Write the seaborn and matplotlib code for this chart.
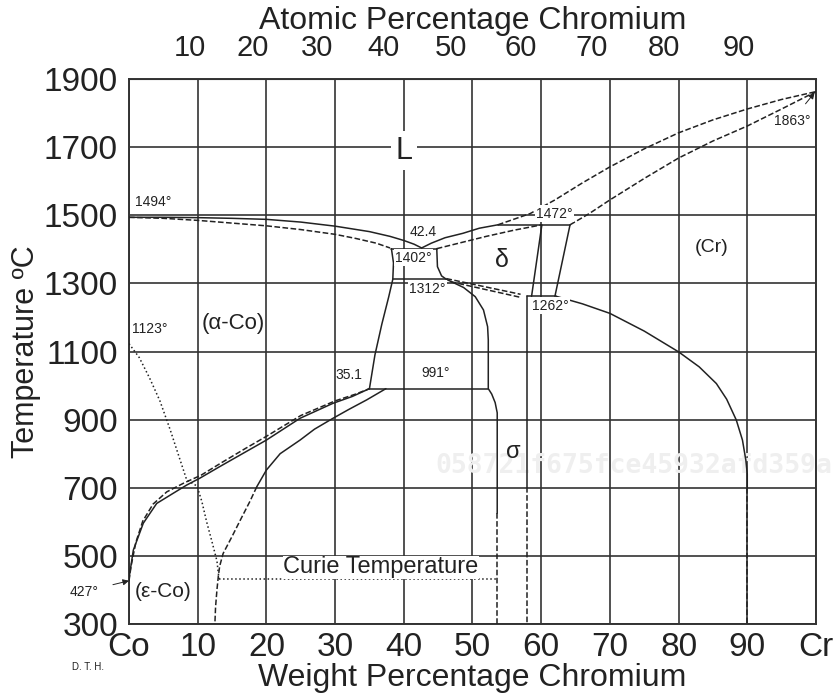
import numpy as np
import pandas as pd
import matplotlib
matplotlib.use("Agg")
import matplotlib.pyplot as plt
import seaborn as sns

# ---- data (weight % Cr, temperature in C) ----
liq_left_x = [0, 5, 10, 15, 20, 25, 30, 35, 38, 40, 41.5, 42.6]
liq_left_t = [1494, 1494, 1493, 1491, 1488, 1480, 1468, 1452, 1438, 1426, 1415, 1404]
sol_alpha_x = [0, 5, 10, 15, 20, 25, 30, 33, 36, 38]
sol_alpha_t = [1494, 1491, 1485, 1477, 1469, 1458, 1444, 1432, 1418, 1404]
liq_right_x = [42.6, 44, 46, 48.6, 51, 53.7]
liq_right_t = [1404, 1418, 1434, 1447, 1462, 1472]
peri_1472_x = [53.7, 64.2]
peri_1472_t = [1472, 1472]
sol_delta_x = [44.8, 48, 52, 56, 60.1]
sol_delta_t = [1402, 1418, 1438, 1456, 1472]
liq_cr_x = [53.7, 58.4, 62, 66, 70, 75, 80, 85, 90, 95, 100]
liq_cr_t = [1472, 1505, 1545, 1595, 1642, 1695, 1742, 1780, 1812, 1840, 1863]
sol_cr_x = [64.2, 67, 70, 75, 80, 85, 90, 95, 100]
sol_cr_t = [1472, 1505, 1545, 1608, 1668, 1718, 1762, 1812, 1863]

eut_1402_x = [38.2, 44.8]
eut_1402_t = [1402, 1402]
line_1312_x = [38.4, 46.2]
line_1312_t = [1312, 1312]
line_991_x = [35.0, 52.3]
line_991_t = [991, 991]
line_1262_x = [57.9, 62.2]
line_1262_t = [1262, 1262]

alpha_solvus_x = [38.2, 38.5, 38.4, 37.8, 36.8, 35.8, 35.0]
alpha_solvus_t = [1402, 1360, 1312, 1260, 1180, 1090, 991]
sigma_left_x = [44.8, 44.9, 45.5, 46.2, 48.7, 50.4, 51.6, 52.2, 52.3, 52.3, 52.8, 53.3, 53.6, 53.6]
sigma_left_t = [1402, 1349, 1322, 1312, 1288, 1261, 1222, 1173, 1134, 991, 975, 950, 920, 625]
sigma_left_low_x = [53.6, 53.6]
sigma_left_low_t = [625, 300]
sigma_right_x = [57.9, 57.9]
sigma_right_t = [1262, 702]
sigma_right_low_x = [57.9, 57.9]
sigma_right_low_t = [702, 300]
delta_sig_a_x = [46.2, 57.0]
delta_sig_a_t = [1314, 1268]
delta_sig_b_x = [46.8, 57.0]
delta_sig_b_t = [1305, 1259]
delta_right_a_x = [58.6, 60.1]
delta_right_a_t = [1262, 1472]
delta_right_b_x = [62.0, 64.2]
delta_right_b_t = [1262, 1472]
cr_solvus_x = [62.2, 66, 70, 75, 80, 83, 85.5, 87, 88.4, 89.3, 89.8, 90, 90]
cr_solvus_t = [1262, 1240, 1212, 1160, 1099, 1055, 1006, 960, 899, 840, 780, 740, 700]
cr_solvus_low_x = [90, 90]
cr_solvus_low_t = [700, 300]

eps_upper_x = [0, 0.04, 0.63, 2.08, 4.03, 6.45, 8.4, 10.3, 13.2, 16.6, 20, 24.9, 29.7, 32.5, 35.0]
eps_upper_t = [427, 439, 517, 596, 654, 684, 708, 728, 762, 801, 840, 904, 948, 968, 991]
eps_dash_x = [0, 0.3, 1, 2, 3.5, 5.5, 8, 10.5, 13.5, 17, 20, 25, 30, 33, 35.0]
eps_dash_t = [427, 470, 540, 602, 652, 688, 714, 737, 774, 816, 851, 912, 955, 975, 991]
eps_lower_x = [18.6, 20, 22, 24.9, 27, 29.7, 32, 34.6, 37.4]
eps_lower_t = [703, 752, 800, 840, 872, 904, 930, 958, 991]
eps_lower_dash_x = [18.6, 17.6, 16.2, 15, 13.7, 13.2, 13.0, 12.8, 12.6, 12.5]
eps_lower_dash_t = [703, 660, 605, 557, 507, 470, 440, 400, 350, 300]

curie_x = [0, 1.5, 3, 4.5, 6, 7.3, 8.4, 9.9, 10.6, 11.3, 12.1, 12.8, 13.1]
curie_t = [1123, 1082, 1022, 955, 870, 790, 723, 705, 660, 600, 540, 485, 432]
curie_flat_x = [13.1, 53.6]
curie_flat_t = [432, 432]

wt_ticks = [0, 10, 20, 30, 40, 50, 60, 70, 80, 90, 100]
wt_labels = ["Co", "10", "20", "30", "40", "50", "60", "70", "80", "90", "Cr"]
at_ticks = [10, 20, 30, 40, 50, 60, 70, 80, 90]
at_labels = ["10", "20", "30", "40", "50", "60", "70", "80", "90"]
t_ticks = [300, 500, 700, 900, 1100, 1300, 1500, 1700, 1900]

M_CR, M_CO = 52.00, 58.93


def wt_to_at(w):
    w = np.asarray(w, dtype=float)
    a = w / M_CR
    b = (100 - w) / M_CO
    return 100 * a / (a + b)


def at_to_wt(a):
    a = np.asarray(a, dtype=float)
    p = a * M_CR
    q = (100 - a) * M_CO
    return 100 * p / (p + q)


sns.set_style("white")
plt.rcParams['font.family'] = ['Liberation Sans', 'DejaVu Sans']

fig = plt.figure(figsize=(8.35, 6.98), dpi=100)
ax = fig.add_axes([0.1545, 0.106, 0.8227, 0.7808])

curves = [
    (liq_left_x, liq_left_t, '-'), (sol_alpha_x, sol_alpha_t, '--'),
    (liq_right_x, liq_right_t, '-'), (peri_1472_x, peri_1472_t, '-'),
    (sol_delta_x, sol_delta_t, '--'), (liq_cr_x, liq_cr_t, '--'),
    (sol_cr_x, sol_cr_t, '--'), (eut_1402_x, eut_1402_t, '-'),
    (line_1312_x, line_1312_t, '-'), (line_991_x, line_991_t, '-'),
    (line_1262_x, line_1262_t, '-'), (alpha_solvus_x, alpha_solvus_t, '-'),
    (sigma_left_x, sigma_left_t, '-'), (sigma_left_low_x, sigma_left_low_t, '--'),
    (sigma_right_x, sigma_right_t, '-'), (sigma_right_low_x, sigma_right_low_t, '--'),
    (delta_sig_a_x, delta_sig_a_t, '--'), (delta_sig_b_x, delta_sig_b_t, '--'),
    (delta_right_a_x, delta_right_a_t, '-'), (delta_right_b_x, delta_right_b_t, '-'),
    (cr_solvus_x, cr_solvus_t, '-'), (cr_solvus_low_x, cr_solvus_low_t, '--'),
    (eps_upper_x, eps_upper_t, '-'), (eps_dash_x, eps_dash_t, '--'),
    (eps_lower_x, eps_lower_t, '-'), (eps_lower_dash_x, eps_lower_dash_t, '--'),
    (curie_x, curie_t, ':'), (curie_flat_x, curie_flat_t, ':'),
]
for cx, ct, ls in curves:
    df = pd.DataFrame({'wt': cx, 'T': ct})
    sns.lineplot(data=df, x='wt', y='T', sort=False, estimator=None, ax=ax,
                 color='#222222', lw=1.1, linestyle=ls, zorder=3)

ax.set_xlim(0, 100)
ax.set_ylim(300, 1900)
ax.set_xticks(wt_ticks)
ax.set_xticklabels(wt_labels)
ax.set_yticks(t_ticks)
ax.tick_params(axis='y', length=0, labelsize=24, pad=8, colors='#222222')
ax.tick_params(axis='x', length=0, labelsize=24, pad=6, colors='#222222')
ax.grid(True, color='#333333', lw=1.2)
for s in ax.spines.values():
    s.set_color('#333333')
    s.set_linewidth(1.4)
ax.set_xlabel('Weight Percentage Chromium', fontsize=23, labelpad=0, color='#222222')
ax.set_ylabel('Temperature ºC', fontsize=22, color='#222222')
ax.yaxis.set_label_coords(-0.128, 0.5)

secax = ax.secondary_xaxis('top', functions=(wt_to_at, at_to_wt))
secax.set_xticks(at_ticks)
secax.set_xticklabels(at_labels)
secax.tick_params(length=0, labelsize=21, pad=12, colors='#222222')
secax.set_xlabel('Atomic Percentage Chromium', fontsize=23, labelpad=4, color='#222222')

wb = dict(fc='white', ec='none', pad=1)
txt = dict(color='#222222', zorder=5)
ax.text(40, 1690, 'L', fontsize=22, ha='center', va='center', bbox=dict(fc='white', ec='none', pad=3), **txt)
ax.text(0.8, 1540, '1494°', fontsize=10, ha='left', va='center', **txt)
ax.text(42.8, 1452, '42.4', fontsize=10, ha='center', va='center', **txt)
ax.text(41.4, 1376, '1402°', fontsize=10, ha='center', va='center', bbox=wb, **txt)
ax.text(43.4, 1284, '1312°', fontsize=10, ha='center', va='center', bbox=wb, **txt)
ax.text(54.3, 1370, 'δ', fontsize=18, ha='center', va='center', **txt)
ax.text(61.9, 1505, '1472°', fontsize=10, ha='center', va='center', bbox=wb, **txt)
ax.text(61.3, 1234, '1262°', fontsize=10, ha='center', va='center', bbox=wb, **txt)
ax.text(84.8, 1404, '(Cr)', fontsize=14, ha='center', va='center', **txt)
ax.text(15.2, 1183, '(α-Co)', fontsize=16, ha='center', va='center', **txt)
ax.text(0.5, 1166, '1123°', fontsize=10, ha='left', va='center', **txt)
ax.text(32.0, 1031, '35.1', fontsize=10, ha='center', va='center', **txt)
ax.text(44.7, 1037, '991°', fontsize=10, ha='center', va='center', **txt)
ax.text(55.9, 805, 'σ', fontsize=17, ha='center', va='center', **txt)
ax.text(36.7, 466, 'Curie Temperature', fontsize=17, ha='center', va='center',
        bbox=dict(fc='white', ec='none', pad=0.5), **txt)
ax.text(5.0, 394, '(ε-Co)', fontsize=15, ha='center', va='center', **txt)
ax.annotate('1863°', xy=(99.8, 1860), xytext=(96.5, 1778), fontsize=10, ha='center', va='center',
            color='#222222', zorder=5,
            arrowprops=dict(arrowstyle='-|>', color='#222222', lw=0.7, mutation_scale=9,
                            shrinkA=6, shrinkB=0))
ax.annotate('427°', xy=(0, 427), xytext=(-6.5, 395), fontsize=10, ha='center', va='center',
            color='#222222', annotation_clip=False,
            arrowprops=dict(arrowstyle='-|>', color='#222222', lw=0.7, mutation_scale=9,
                            shrinkA=8, shrinkB=0))
ax.text(44.6, 765, '058721f675fce45932afd359a', fontsize=19, fontweight='bold',
        family='DejaVu Sans Mono', color='#efefef', ha='left', va='center', zorder=1,
        clip_on=False)
fig.text(0.086, 0.040, 'D. T. H.', fontsize=7, color='#222222')

fig.savefig('out.png', dpi=100)
